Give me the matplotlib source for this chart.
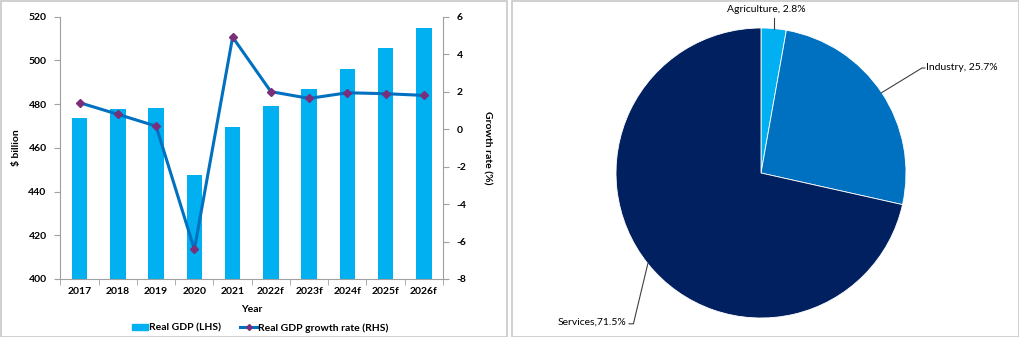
import numpy as np
import matplotlib
matplotlib.use('Agg')
import matplotlib.pyplot as plt
from matplotlib.patches import Rectangle
from matplotlib.lines import Line2D

plt.rcParams['font.family'] = ['Lato', 'DejaVu Sans']
plt.rcParams['axes.unicode_minus'] = False

# donnees
years = ['2017', '2018', '2019', '2020', '2021', '2022f', '2023f', '2024f', '2025f', '2026f']
gdp = [473.8, 477.6, 478.2, 447.6, 469.5, 479.0, 486.8, 496.1, 505.7, 514.8]
growth = [1.41, 0.79, 0.16, -6.42, 4.91, 2.0, 1.64, 1.94, 1.89, 1.8]

sectors = ['Agriculture', 'Industry', 'Services']
shares = [2.8, 25.7, 71.5]
sector_labels = ['Agriculture, 2.8%', 'Industry, 25.7%', 'Services,71.5%']

W, H = 1020, 337
fig = plt.figure(figsize=(W / 100, H / 100), dpi=100)

# cadres gris des deux panneaux
for x0, x1 in [(0.5, 507.5), (512, 1019)]:
    fig.patches.append(Rectangle((x0 / W, 0.5 / H), (x1 - x0) / W, (H - 1.5) / H,
                                 transform=fig.transFigure, fill=False,
                                 edgecolor='#c8c8c8', linewidth=1.2))

# panneau gauche : PIB + croissance
ax = fig.add_axes([60.5 / W, 1 - 279 / H, (443 - 60.5) / W, 262.3 / H])
x = np.arange(len(years))
ax.bar(x, gdp, width=0.41, color='#00B0F0', zorder=2)
ax.set_xlim(-0.5, len(years) - 0.5)
ax.set_ylim(400, 520)
ax.set_yticks(np.arange(400, 521, 20))
ax.set_xticks(x)
ax.set_xticklabels(years, fontsize=7.5, fontweight='bold')
ax.set_xticks(np.arange(-0.5, len(years), 1), minor=True)
ax.tick_params(axis='x', which='major', length=0, pad=6)
ax.tick_params(axis='x', which='minor', length=4, color='#a0a0a0')
ax.tick_params(axis='y', length=4, color='#a0a0a0', labelsize=7.5, pad=6)
for lab in ax.get_yticklabels():
    lab.set_fontweight('bold')
for s in ['top', 'right']:
    ax.spines[s].set_visible(False)
for s in ['left', 'bottom']:
    ax.spines[s].set_color('#a0a0a0')
ax.set_ylabel('$ billion', fontsize=7.5, fontweight='bold', labelpad=5)
ax.set_xlabel('Year', fontsize=7.5, fontweight='bold', labelpad=6)

ax2 = ax.twinx()
ax2.plot(x, growth, color='#0070C0', linewidth=2.2, marker='D', markersize=4,
         markerfacecolor='#7a2f7a', markeredgecolor='#7a2f7a', zorder=3)
ax2.set_ylim(-8, 6)
ax2.set_yticks(np.arange(-8, 7, 2))
ax2.tick_params(axis='y', length=4, color='#a0a0a0', labelsize=7.5, pad=6)
for lab in ax2.get_yticklabels():
    lab.set_fontweight('bold')
for s in ['top', 'left', 'bottom']:
    ax2.spines[s].set_visible(False)
ax2.spines['right'].set_color('#a0a0a0')
ax2.set_ylabel('Growth rate (%)', fontsize=7.5, fontweight='bold', rotation=270, labelpad=18)

handles = [Rectangle((0, 0), 1, 1, color='#00B0F0'),
           Line2D([0], [0], color='#0070C0', linewidth=2.2, marker='D', markersize=3,
                  markerfacecolor='#7a2f7a', markeredgecolor='#7a2f7a')]
fig.legend(handles, ['Real GDP (LHS)', 'Real GDP growth rate (RHS)'],
           loc='center', bbox_to_anchor=(260 / W, 1 - 328 / H), ncol=2, frameon=False,
           prop={'size': 7.5, 'weight': 'bold'}, handlelength=1.6, handleheight=0.6,
           handletextpad=0.1, columnspacing=1.8)

# panneau droit : camembert
cx, cy, r = 761, 173, 145
pax = fig.add_axes([(cx - r) / W, 1 - (cy + r) / H, 2 * r / W, 2 * r / H])
colors = ['#00B0F0', '#0070C0', '#002060']
wedges, _ = pax.pie(shares, colors=colors, startangle=90, counterclock=False,
                    wedgeprops={'linewidth': 0.6, 'edgecolor': 'white'})
pax.set_xlim(-1, 1)
pax.set_ylim(-1, 1)

cum = np.cumsum([0] + shares[:-1])
mid = np.deg2rad(90 - (cum + np.array(shares) / 2) * 3.6)
ex, ey = np.cos(mid), np.sin(mid)
lc = '#404040'
# Agriculture
pax.plot([ex[0], ex[0]], [ey[0], 1.07], color=lc, linewidth=0.8, clip_on=False)
pax.text(0.04, 1.13, sector_labels[0], ha='center', va='center', fontsize=7.5)
# Industry
pax.plot([ex[1], 1.11, 1.13], [ey[1], 0.724, 0.724], color=lc, linewidth=0.8, clip_on=False)
pax.text(1.14, 0.73, sector_labels[1], ha='left', va='center', fontsize=7.5)
# Services
pax.plot([ex[2], -0.88, -0.91], [ey[2], -1.04, -1.04], color=lc, linewidth=0.8, clip_on=False)
pax.text(-0.93, -1.03, sector_labels[2], ha='right', va='center', fontsize=7.5)

fig.savefig('out.png', dpi=100)
